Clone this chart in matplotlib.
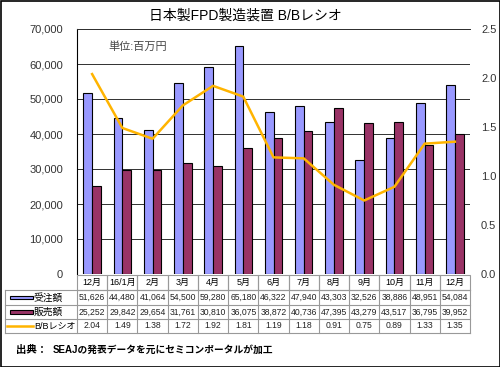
import numpy as np
import matplotlib
matplotlib.use('Agg')
import matplotlib.pyplot as plt
from matplotlib.patches import Rectangle
from matplotlib.ticker import FuncFormatter

plt.rcParams['font.family'] = ['Liberation Sans', 'Noto Sans CJK JP', 'DejaVu Sans']

months = ['12月', '16/1月', '2月', '3月', '4月', '5月', '6月', '7月', '8月', '9月', '10月', '11月', '12月']
orders = [51626, 44480, 41064, 54500, 59280, 65180, 46322, 47940, 43303, 32526, 38886, 48951, 54084]
sales = [25252, 29842, 29654, 31761, 30810, 36075, 38872, 40736, 47395, 43279, 43517, 36795, 39952]
bb = [2.04, 1.49, 1.38, 1.72, 1.92, 1.81, 1.19, 1.18, 0.91, 0.75, 0.89, 1.33, 1.35]
series_names = ['受注額', '販売額', 'B/Bレシオ']

c_blue = '#9999ff'
c_red = '#993366'
c_line = '#ffb400'

W, H = 500, 367
fig = plt.figure(figsize=(W / 100, H / 100), dpi=100)

# pixel layout
px_l, px_r, px_t, px_b = 77, 470, 29, 274
ax = fig.add_axes([px_l / W, 1 - px_b / H, (px_r - px_l) / W, (px_b - px_t) / H])

x = np.arange(len(months))
bw = 0.29
ax.bar(x - bw / 2, orders, bw, color=c_blue, edgecolor='black', linewidth=0.8, zorder=3)
ax.bar(x + bw / 2, sales, bw, color=c_red, edgecolor='black', linewidth=0.8, zorder=3)
ax.set_xlim(-0.5, len(months) - 0.5)
ax.set_ylim(0, 70000)
ax.set_yticks(np.arange(0, 70001, 10000))
ax.yaxis.set_major_formatter(FuncFormatter(lambda v, p: '{:,.0f}'.format(v)))
ax.grid(axis='y', color='#303030', linewidth=0.7, zorder=0)
ax.set_xticks([])
ax.tick_params(axis='y', labelsize=8, length=0, pad=10, colors='#333333')
for s in ['right', 'bottom']:
    ax.spines[s].set_visible(False)
ax.spines['top'].set_color('#303030')
ax.spines['top'].set_linewidth(0.7)
ax.spines['left'].set_linewidth(0.8)

ax2 = ax.twinx()
ax2.plot(x, bb, color=c_line, linewidth=1.8, zorder=4)
ax2.set_ylim(0, 2.5)
ax2.set_yticks(np.arange(0, 2.51, 0.5))
ax2.yaxis.set_major_formatter(FuncFormatter(lambda v, p: '{:.1f}'.format(v)))
ax2.tick_params(axis='y', labelsize=8, length=0, pad=8, colors='#333333')
for s in ax2.spines.values():
    s.set_visible(False)

ax.text(0.08, 0.93, '単位:百万円', transform=ax.transAxes, fontsize=8, color='#444444', va='center')
fig.text(245 / W, 1 - 16 / H, '日本製FPD製造装置 B/Bレシオ', ha='center', va='center', fontsize=10)

# table in pixel coordinates
ov = fig.add_axes([0, 0, 1, 1])
ov.set_xlim(0, W)
ov.set_ylim(H, 0)
ov.axis('off')
colw = (px_r - px_l) / len(months)
lc = '#999999'
y_head_t, y_head_b = 275, 290
rows_y = [290, 305, 319, 333]
tab_l = 5
# header cells
for i, m in enumerate(months):
    x0 = px_l + i * colw
    ov.add_patch(Rectangle((x0, y_head_t), colw, y_head_b - y_head_t, fill=False, edgecolor=lc, linewidth=0.8))
    ov.text(x0 + colw / 2, (y_head_t + y_head_b) / 2, m, ha='center', va='center', fontsize=6.5)
# body grid
for yy in rows_y:
    ov.plot([tab_l, px_r], [yy, yy], color=lc, linewidth=0.8)
for i in range(len(months) + 1):
    xx = px_l + i * colw
    ov.plot([xx, xx], [rows_y[0], rows_y[-1]], color=lc, linewidth=0.8)
ov.plot([tab_l, tab_l], [rows_y[0], rows_y[-1]], color=lc, linewidth=0.8)

vals = [['{:,}'.format(v) for v in orders],
        ['{:,}'.format(v) for v in sales],
        ['{:.2f}'.format(v) for v in bb]]
for r in range(3):
    yc = (rows_y[r] + rows_y[r + 1]) / 2
    for i in range(len(months)):
        ov.text(px_l + (i + 0.5) * colw, yc, vals[r][i], ha='center', va='center', fontsize=6.2, color='#222222')
    if r < 2:
        ov.add_patch(Rectangle((10, yc - 1.8), 23, 3.6, facecolor=[c_blue, c_red][r], edgecolor='black', linewidth=0.8))
        ov.text(34, yc, series_names[r], ha='left', va='center', fontsize=7)
    else:
        ov.plot([7, 33], [yc, yc], color=c_line, linewidth=1.8)
        ov.text(34, yc, series_names[r], ha='left', va='center', fontsize=6.5)

ov.text(16, 350, '出典：', ha='left', va='center', fontsize=7.5, fontweight='bold')
ov.text(53, 350, 'SEAJの発表データを元にセミコンポータルが加工', ha='left', va='center', fontsize=7, fontweight='bold')

ov.add_patch(Rectangle((0.5, 0.5), W - 1, H - 1, fill=False, edgecolor='black', linewidth=1.2))

fig.savefig('out.png', dpi=100)
